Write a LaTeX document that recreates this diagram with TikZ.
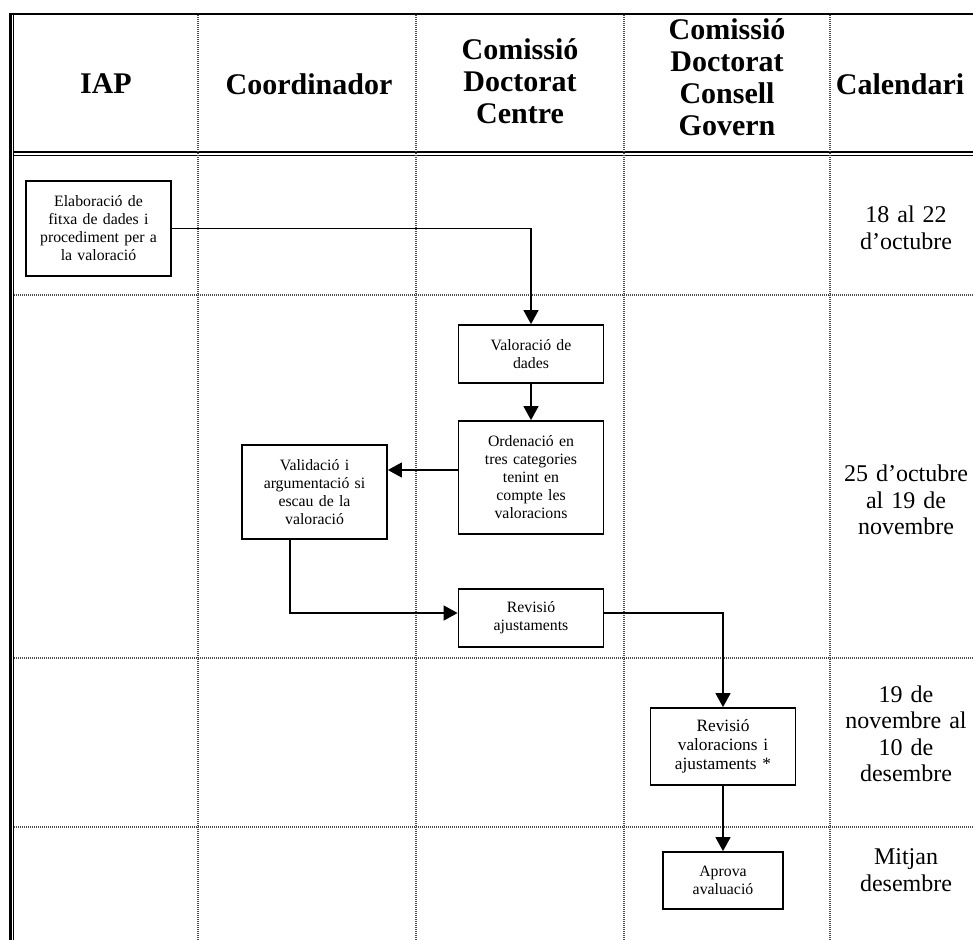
\documentclass[tikz,border=0pt]{standalone}
\usepackage{fontspec}
\setmainfont{Liberation Serif}
\usetikzlibrary{arrows.meta}
\newcommand{\headfont}{\fontsize{30}{32}\selectfont\bfseries}
\newcommand{\boxfont}{\fontsize{15.8}{18}\selectfont}
\newcommand{\calfont}{\fontsize{24}{26.5}\selectfont}
\tikzstyle{heading} = [align=center, font=\headfont, inner sep=0pt]
\tikzstyle{process} = [rectangle, minimum height=58pt, text centered, text width=137pt, inner sep=4pt, draw=black, line width=1.8pt, fill=white, font=\boxfont]
\tikzstyle{dates} = [text centered, text width=136pt, inner sep=0pt, font=\calfont]
\tikzstyle{gridline} = [black!70, line width=1.2pt, dash pattern=on 1pt off 1pt]
\tikzstyle{arrow} = [line width=1.5pt,->,>={Triangle[length=14pt,width=15pt]}]

\begin{document}
\begin{tikzpicture}[x=1pt, y=-1pt, node distance = 100pt]
  \useasboundingbox (0,0) rectangle (973,940);
  % table frame
  \draw [line width=2pt] (9.5,14) -- (973,14);
  \draw [line width=2.2pt] (10.5,13) -- (10.5,940);
  \draw [line width=1.2pt] (13.3,14) -- (13.3,940);
  \draw [line width=1.5pt] (13.3,152) -- (973,152);
  \draw [line width=1.5pt] (13.3,155.5) -- (973,155.5);
  \draw [gridline] (198,15) -- (198,940);
  \draw [gridline] (416,15) -- (416,940);
  \draw [gridline] (624,15) -- (624,940);
  \draw [gridline] (830,15) -- (830,940);
  \draw [gridline] (14,295) -- (973,295);
  \draw [gridline] (14,658) -- (973,658);
  \draw [gridline] (14,827) -- (973,827);
  % column headings
  \node (iap) [heading] at (106,84) {IAP};
  \node (coord) [heading] at (309,84) {Coordinador};
  \node (cdcentre) [heading] at (520,81) {Comissió\\Doctorat\\Centre};
  \node (cdconsell) [heading] at (727,77) {Comissió\\Doctorat\\Consell\\Govern};
  \node (cal) [heading] at (900,84) {Calendari};
  % steps
  \node (elab) [process, minimum height=95pt] at (98.5,228.5) {Elaboració de\\fitxa de dades i\\procediment per a\\la valoració};
  \node (valdades) [process] at (531,354) {Valoració de\\dades};
  \node (ordenacio) [process, minimum height=113pt, below of = valdades, yshift = -23.5pt] {Ordenació en\\tres categories\\tenint en\\compte les\\valoracions};
  \node (validacio) [process, minimum height=94pt, left of = ordenacio, xshift = -116.5pt, yshift = -14.5pt] {Validació i\\argumentació si\\escau de la\\valoració};
  \node (revajust) [process, below of = ordenacio, yshift = -40.5pt] {Revisió\\ajustaments};
  \node (revval) [process, minimum height=77pt, font=\fontsize{17.3}{19}\selectfont, right of = revajust, xshift = 92pt, yshift = -128.5pt] {Revisió\\valoracions i\\ajustaments *};
  \node (aprova) [process, minimum height=57pt, text width=112pt, below of = revval, yshift = -34pt] {Aprova\\avaluació};
  % dates
  \node (date1) [dates] at (906,228) {18 al 22\\d’octubre};
  \node (date2) [dates] at (906,500) {25 d’octubre\\al 19 de\\novembre};
  \node (date3) [dates] at (906,734) {19 de\\novembre al\\10 de\\desembre};
  \node (date4) [dates] at (906,870) {Mitjan\\desembre};
  % connectors
  \coordinate (ordleft) at ([yshift=7.5pt]ordenacio.west);
  \coordinate (ajleft) at ([yshift=5pt]revajust.west);
  \coordinate (ajright) at ([yshift=5pt]revajust.east);
  \coordinate (valbottom) at ([xshift=-24.5pt]validacio.south);
  \draw [arrow] (elab.east) -| (valdades.north);
  \draw [arrow] (valdades) -- (ordenacio);
  \draw [arrow] (ordleft) -- (ordleft -| validacio.east);
  \draw [arrow] (valbottom) |- (ajleft);
  \draw [arrow] (ajright) -| (revval.north);
  \draw [arrow] (revval) -- (aprova);
\end{tikzpicture}
\end{document}
